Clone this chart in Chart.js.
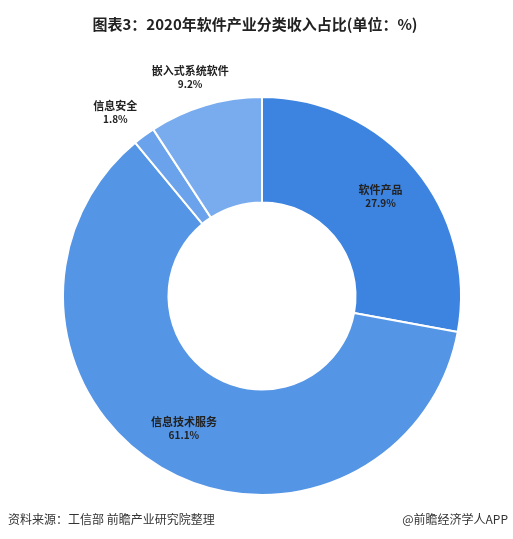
<!DOCTYPE html>
<html><head><meta charset="utf-8">
<script src="https://cdn.jsdelivr.net/npm/chart.js@4/dist/chart.umd.min.js"></script>
<style>html,body{margin:0;padding:0;background:#fff}#w{position:relative;width:513px;height:539px}</style>
</head><body><div id="w"><canvas id="c" width="513" height="539"></canvas></div>
<script>
const categories = ["软件产品","信息技术服务","信息安全","嵌入式系统软件"];
const values = [27.9, 61.1, 1.8, 9.2];
const colors = ["#3D84E0","#5595E5","#6AA3EB","#78ACEE"];
const F = "'Noto Sans CJK SC','Noto Sans',sans-serif";
const labelPlugin = {
  id:'lbl',
  afterDraw(chart){
    const ctx = chart.ctx;
    const meta = chart.getDatasetMeta(0);
    ctx.save();
    ctx.fillStyle = '#222'; ctx.textAlign='center';
    ctx.font = "bold 15px "+F;
    ctx.fillText("图表3：2020年软件产业分类收入占比(单位：%)", 255, 30);
    meta.data.forEach((arc,i)=>{
      const a = (arc.startAngle+arc.endAngle)/2;
      let r;
      if (values[i] > 20){ r = (arc.innerRadius+arc.outerRadius)/2 + 8; }
      else { r = arc.outerRadius + 18; }
      let x = arc.x + Math.cos(a)*r, y = arc.y + Math.sin(a)*r;
      if (i===2){ x -= 18; y -= 8; }
      if (i===3){ x -= 10; y -= 10; }
      ctx.font = "bold 11px "+F;
      ctx.fillText(categories[i], x, y-3);
      ctx.font = "bold 10px "+F;
      ctx.fillText(values[i].toFixed(1)+"%", x, y+10);
    });
    ctx.textAlign='left'; ctx.font = "12px "+F; ctx.fillStyle='#333';
    ctx.fillText("资料来源：工信部 前瞻产业研究院整理", 8, 524);
    ctx.textAlign='right';
    ctx.fillText("@前瞻经济学人APP", 508, 524);
    ctx.restore();
  }
};
new Chart(document.getElementById('c'), {
  type:'doughnut',
  data:{labels:categories, datasets:[{data:values, backgroundColor:colors, borderColor:'#fff', borderWidth:2}]},
  options:{responsive:false, animation:false, cutout:'47%',
    layout:{padding:{top:95,bottom:42,left:62,right:51}},
    plugins:{legend:{display:false}, tooltip:{enabled:false}}},
  plugins:[labelPlugin]
});
</script></body></html>
